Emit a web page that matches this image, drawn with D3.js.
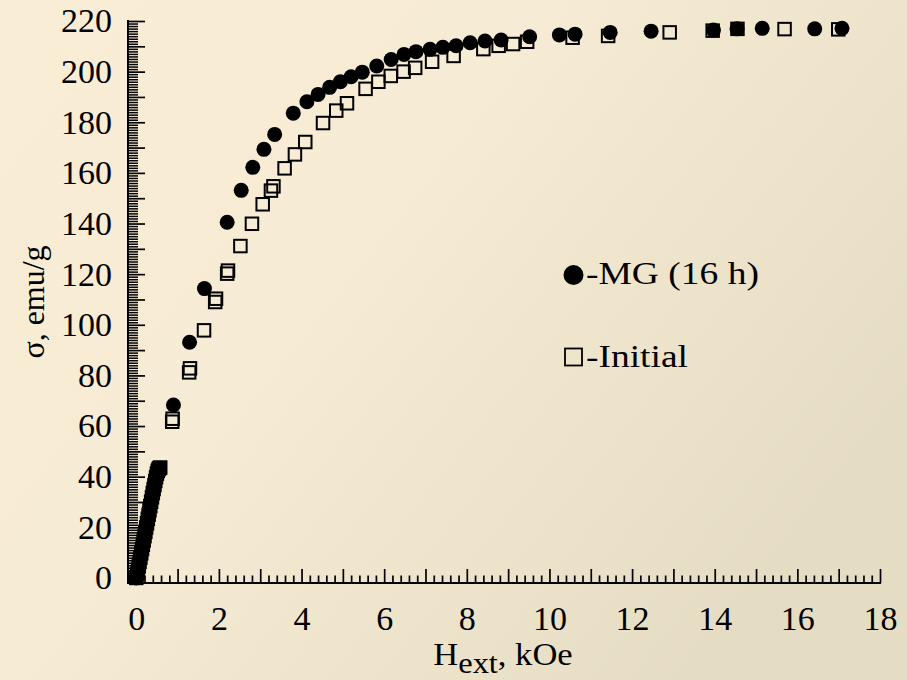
<!DOCTYPE html>
<html>
<head>
<meta charset="utf-8">
<script src="https://cdn.jsdelivr.net/npm/d3@7"></script>
<style>
  html, body { margin: 0; padding: 0; }
  svg { display: block; }
  text { font-family: "Liberation Serif", "Times New Roman", serif; fill: #000; }
</style>
</head>
<body>
<svg id="chart" width="907" height="680"></svg>
<script>
// Magnetization curves: field H (kOe) vs specific magnetization σ (emu/g)
const mgH = [0.00,0.01,0.02,0.03,0.05,0.07,0.09,0.11,0.13,0.15,0.17,0.19,0.21,0.23,0.25,0.27,0.29,0.31,0.33,0.35,0.37,0.39,0.41,0.43,0.45,0.47,0.49,0.51,0.53,0.55,
  0.90,1.29,1.65,2.20,2.54,2.82,3.09,3.35,3.80,4.13,4.40,4.68,4.94,5.20,5.47,5.82,6.17,6.48,6.77,7.11,7.42,7.74,8.08,8.44,8.83,9.52,10.24,10.62,11.47,12.46,13.97,14.54,15.15,16.42,17.08];
const mgSigma = [0.0,1.2,2.1,3.0,4.3,5.9,7.6,9.2,10.9,12.6,14.3,16.0,17.7,19.4,21.1,22.8,24.5,26.2,27.9,29.6,31.2,32.9,34.6,36.2,37.9,39.5,41.0,42.1,42.8,43.2,
  68.3,93.1,114.3,140.5,153.1,162.2,169.3,175.2,183.6,188.1,191.0,193.8,196.0,198.0,199.8,202.2,204.8,206.8,207.9,208.8,209.6,210.2,211.4,212.1,212.5,213.8,214.5,214.8,215.5,216.0,216.4,216.9,217.1,216.9,217.1];

const initH = [0.00,0.02,0.04,0.06,0.08,0.10,0.12,0.14,0.16,0.18,0.20,0.22,0.24,0.26,0.28,0.30,0.32,0.34,0.36,0.38,0.40,0.42,0.44,0.46,0.48,0.50,0.52,0.54,0.56,0.58,
  0.87,0.88,1.28,1.30,1.64,1.91,1.93,2.20,2.22,2.52,2.80,3.06,3.26,3.32,3.59,3.84,4.09,4.52,4.84,5.10,5.55,5.86,6.16,6.47,6.75,7.16,7.68,8.40,8.77,9.12,9.46,10.56,11.42,12.91,13.95,14.55,15.69,16.99];
const initSigma = [0.0,1.5,3.0,4.6,6.3,8.0,9.7,11.4,13.1,14.8,16.5,18.2,19.9,21.6,23.3,25.0,26.7,28.4,30.1,31.8,33.5,35.1,36.7,38.3,39.8,41.2,42.3,43.0,43.4,43.6,
  61.7,62.9,81.2,82.8,97.8,109.0,110.3,120.2,121.4,131.1,139.9,147.6,153.0,154.7,161.8,167.3,172.2,179.7,184.6,187.5,193.2,196.0,198.3,200.0,201.5,203.9,206.2,208.9,210.2,210.9,211.8,213.4,214.1,215.5,216.2,216.9,216.8,216.7];

const xLabelTicks = [0,2,4,6,8,10,12,14,16,18];
const yLabelTicks = [0,20,40,60,80,100,120,140,160,180,200,220];
const legendLabels = ["-MG (16 h)", "-Initial"];

const svg = d3.select("#chart");
const W = 907, H = 680;

// background: warm cream fading to a greyer tone toward the right and bottom
const defs = svg.append("defs");
const grad = defs.append("linearGradient").attr("id", "bg")
  .attr("x1", "0").attr("y1", "0").attr("x2", "1").attr("y2", "0.6");
grad.append("stop").attr("offset", "0").attr("stop-color", "#FAEDD5");
grad.append("stop").attr("offset", "0.45").attr("stop-color", "#F6EBD4");
grad.append("stop").attr("offset", "1").attr("stop-color", "#E5DDC3");
svg.append("rect").attr("width", W).attr("height", H).attr("fill", "url(#bg)");

const x = d3.scaleLinear().domain([-0.2, 18]).range([128, 880]);
const y = d3.scaleLinear().domain([-2, 220]).range([583, 21]);

const x0 = x.range()[0], yBase = y.range()[0];

// x axis: minor ticks every 0.2, major every 1, labels every 2 (ticks point inward)
const xMinor = d3.range(0, 18.001, 0.2).filter(v => Math.abs(v - Math.round(v)) > 1e-6);
const xMajor = d3.range(0, 19, 1);
const gx = svg.append("g").attr("transform", `translate(0,${yBase})`);
gx.append("g").call(d3.axisBottom(x).tickValues(xMinor).tickSizeInner(-7.5).tickSizeOuter(0).tickFormat(""))
  .call(g => g.select(".domain").remove())
  .call(g => g.selectAll(".tick line").attr("stroke-width", 1.7));
gx.append("g").call(d3.axisBottom(x).tickValues(xMajor).tickSizeInner(-14).tickSizeOuter(0).tickFormat(""))
  .call(g => g.select(".domain").remove())
  .call(g => g.selectAll(".tick line").attr("stroke-width", 1.7));
gx.append("g").call(d3.axisBottom(x).tickValues(xLabelTicks).tickSize(0).tickPadding(23).tickFormat(d3.format("d")))
  .call(g => g.select(".domain").remove())
  .call(g => g.selectAll("text").attr("font-size", 34).attr("font-family", "Liberation Serif"));
gx.append("line").attr("x1", x0).attr("x2", x(18) + 1).attr("stroke", "#000").attr("stroke-width", 2);

// y axis: minor ticks every 1, major every 10, labels every 20
const yMinor = d3.range(0, 221, 1).filter(v => v % 10 !== 0);
const yMajor = d3.range(0, 221, 10);
const gy = svg.append("g").attr("transform", `translate(${x0},0)`);
gy.append("g").call(d3.axisLeft(y).tickValues(yMinor).tickSizeInner(-10).tickSizeOuter(0).tickFormat(""))
  .call(g => g.select(".domain").remove())
  .call(g => g.selectAll(".tick line").attr("stroke-width", 1.5));
gy.append("g").call(d3.axisLeft(y).tickValues(yMajor).tickSizeInner(-17).tickSizeOuter(0).tickFormat(""))
  .call(g => g.select(".domain").remove())
  .call(g => g.selectAll(".tick line").attr("stroke-width", 1.7));
gy.append("g").call(d3.axisLeft(y).tickValues(yLabelTicks).tickSize(0).tickPadding(16).tickFormat(d3.format("d")))
  .call(g => g.select(".domain").remove())
  .call(g => g.selectAll("text").attr("font-size", 34).attr("font-family", "Liberation Serif"));
gy.append("line").attr("y1", y(220) - 1).attr("y2", yBase + 1).attr("stroke", "#000").attr("stroke-width", 2);

// data: hollow squares first, filled circles on top
const initPts = initH.map((h, i) => ({ h, s: initSigma[i] }));
const mgPts = mgH.map((h, i) => ({ h, s: mgSigma[i] }));
const side = 12.5;
svg.append("g").selectAll("rect").data(initPts).join("rect")
  .attr("x", d => x(d.h) - side / 2).attr("y", d => y(d.s) - side / 2)
  .attr("width", side).attr("height", side)
  .attr("fill", "none").attr("stroke", "#000").attr("stroke-width", 2);
svg.append("g").selectAll("circle").data(mgPts).join("circle")
  .attr("cx", d => x(d.h)).attr("cy", d => y(d.s)).attr("r", 7.5).attr("fill", "#000");

// legend
const lg = svg.append("g");
lg.append("circle").attr("cx", 573.5).attr("cy", 275).attr("r", 10).attr("fill", "#000");
lg.append("rect").attr("x", 565).attr("y", 348.5).attr("width", 17).attr("height", 17)
  .attr("fill", "none").attr("stroke", "#000").attr("stroke-width", 1.8);
lg.append("text").attr("x", 586).attr("y", 284).attr("font-size", 31)
  .attr("textLength", 173).attr("lengthAdjust", "spacingAndGlyphs").text(legendLabels[0]);
lg.append("text").attr("x", 586).attr("y", 367).attr("font-size", 31)
  .attr("textLength", 102).attr("lengthAdjust", "spacingAndGlyphs").text(legendLabels[1]);

// axis titles
const xt = svg.append("text").attr("transform", "translate(503,665) scale(1.08,1)")
  .attr("text-anchor", "middle").attr("font-size", 32);
xt.append("tspan").text("H");
xt.append("tspan").attr("dy", 8).attr("font-size", 30).text("ext");
xt.append("tspan").attr("dy", -8).text(", kOe");

svg.append("text").attr("transform", "translate(44,302) rotate(-90)")
  .attr("text-anchor", "middle").attr("font-size", 32).text("σ, emu/g");
</script>
</body>
</html>
